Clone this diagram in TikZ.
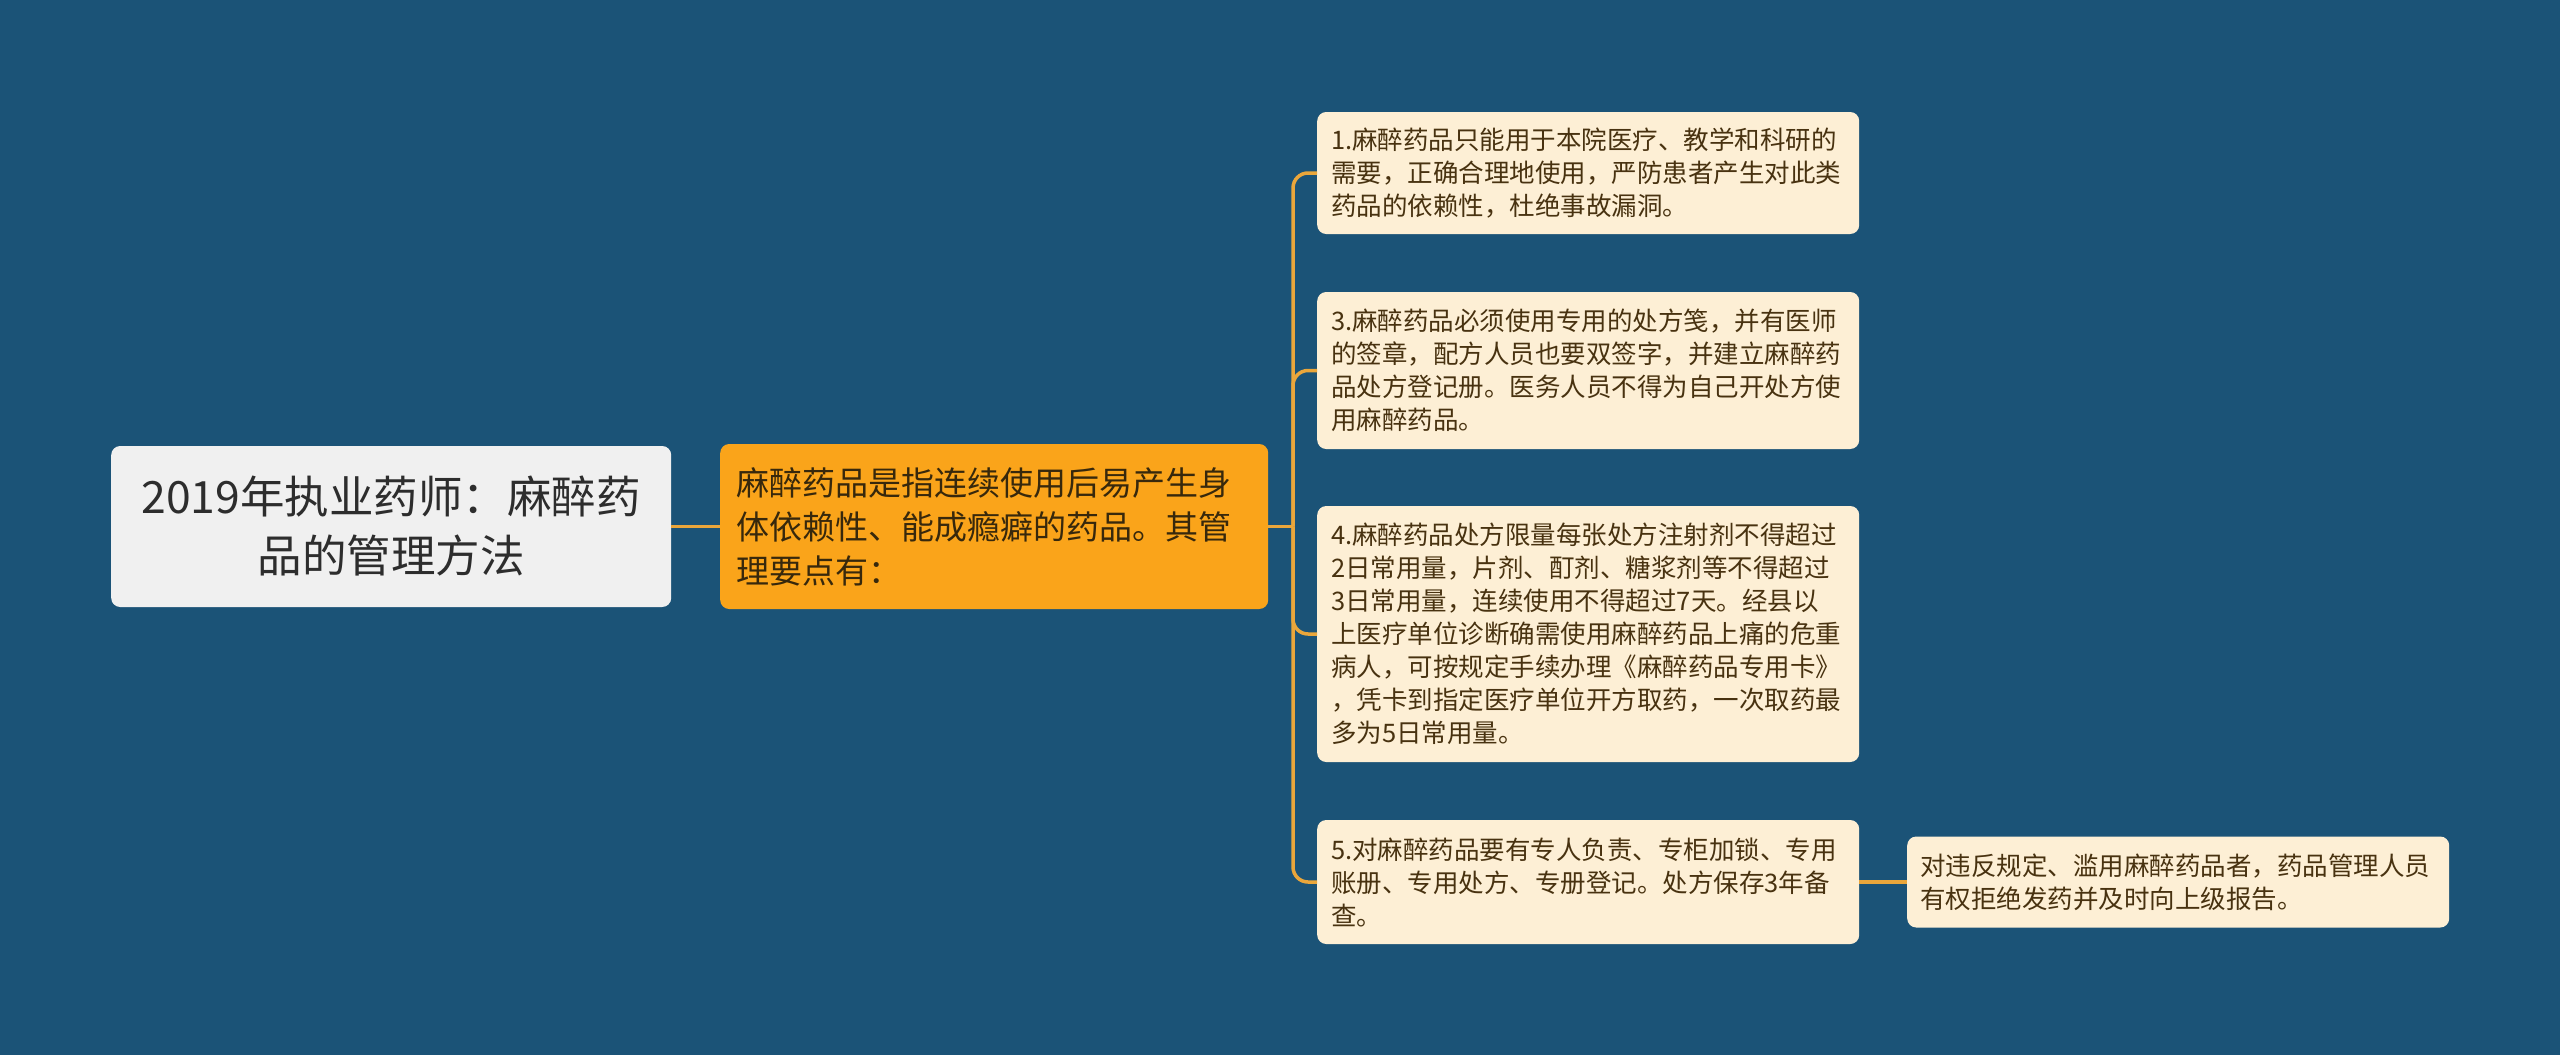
\documentclass[tikz,border=0pt]{standalone}
\usepackage{fontspec}
\setmainfont{Noto Sans CJK SC}
\definecolor{bgblue}{RGB}{27,83,119}
\definecolor{linegold}{RGB}{234,166,59}
\definecolor{rootfill}{RGB}{240,240,240}
\definecolor{roottext}{RGB}{45,45,45}
\definecolor{midfill}{RGB}{250,164,26}
\definecolor{midtext}{RGB}{55,40,12}
\definecolor{leaffill}{RGB}{253,239,213}
\definecolor{leaftext}{RGB}{72,50,16}
\tikzset{
  rootbox/.style={fill=rootfill, text=roottext, rounded corners=9pt, anchor=west,
    text width=530pt, inner xsep=15pt, inner ysep=0pt, align=center,
    minimum height=161pt, font=\fontsize{44.5pt}{59pt}\selectfont},
  midbox/.style={fill=midfill, text=midtext, rounded corners=9pt, anchor=west,
    text width=516pt, inner xsep=16pt, inner ysep=0pt, align=left,
    minimum height=165pt, font=\fontsize{33pt}{44pt}\selectfont},
  notebox/.style={fill=leaffill, text=leaftext, rounded corners=9pt, anchor=west,
    text width=514pt, inner xsep=14pt, inner ysep=0pt, align=left,
    font=\fontsize{25.5pt}{33pt}\selectfont},
  link/.style={draw=linegold, line width=3.5pt},
}
\begin{document}
\begin{tikzpicture}[x=1pt,y=-1pt]
\fill[bgblue] (0,0) rectangle (2560,1055);
\useasboundingbox (0,0) rectangle (2560,1055);

\node[rootbox] (root) at (111,526.5) {2019年执业药师：麻醉药\\品的管理方法};
\node[midbox] (mid) at (720,526.5) {麻醉药品是指连续使用后易产生身\\体依赖性、能成瘾癖的药品。其管\\理要点有：};

\node[notebox, minimum height=122pt] (c1) at (1317,173) {1.麻醉药品只能用于本院医疗、教学和科研的\\需要，正确合理地使用，严防患者产生对此类\\药品的依赖性，杜绝事故漏洞。};
\node[notebox, minimum height=157pt] (c3) at (1317,370.5) {3.麻醉药品必须使用专用的处方笺，并有医师\\的签章，配方人员也要双签字，并建立麻醉药\\品处方登记册。医务人员不得为自己开处方使\\用麻醉药品。};
\node[notebox, minimum height=256pt] (c4) at (1317,634) {4.麻醉药品处方限量每张处方注射剂不得超过\\2日常用量，片剂、酊剂、糖浆剂等不得超过\\3日常用量，连续使用不得超过7天。经县以\\上医疗单位诊断确需使用麻醉药品上痛的危重\\病人，可按规定手续办理《麻醉药品专用卡》\\，凭卡到指定医疗单位开方取药，一次取药最\\多为5日常用量。};
\node[notebox, minimum height=124pt] (c5) at (1317,882) {5.对麻醉药品要有专人负责、专柜加锁、专用\\账册、专用处方、专册登记。处方保存3年备\\查。};
\node[notebox, minimum height=91pt, text width=516pt, inner xsep=13pt] (leaf) at (1907,882) {对违反规定、滥用麻醉药品者，药品管理人员\\有权拒绝发药并及时向上级报告。};

\coordinate (j) at (1293,526.5);
\draw[link] (root.east) -- (mid.west);
\draw[link] (mid.east) -- (j);
\draw[link, rounded corners=15pt] (j) |- (c1.west);
\draw[link, rounded corners=15pt] (j) |- (c3.west);
\draw[link, rounded corners=15pt] (j) |- (c4.west);
\draw[link, rounded corners=15pt] (j) |- (c5.west);
\draw[link] (c5.east) -- (leaf.west);
\end{tikzpicture}
\end{document}
